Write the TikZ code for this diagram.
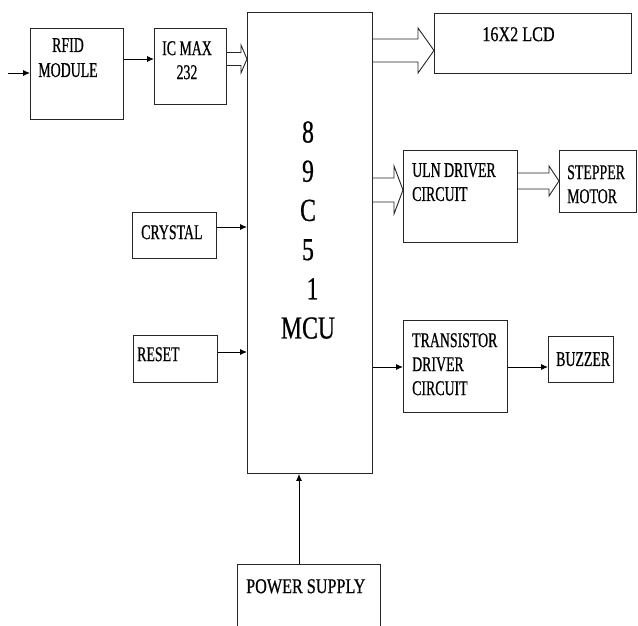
\documentclass[tikz,border=0pt]{standalone}
\usepackage{fontspec}
\setmainfont{Liberation Serif}
\newfontfamily\tnr[FakeStretch=0.66,FakeBold=0.6]{Liberation Serif}
\newfontfamily\tnrw[FakeStretch=0.77,FakeBold=0.6]{Liberation Serif}
\newfontfamily\tnrm[FakeStretch=0.74,FakeBold=0.6]{Liberation Serif}
\usetikzlibrary{arrows.meta,calc}
\tikzset{
  box/.style={draw=black!85, line width=0.9pt, inner sep=0pt, anchor=north west},
  lbl/.style={inner sep=0pt, font=\tnr\fontsize{21}{24}\selectfont},
  lblw/.style={inner sep=0pt, font=\tnrw\fontsize{21}{24}\selectfont},
  conn/.style={line width=0.9pt, -{Latex[length=7pt,width=6pt]}},
  hollow/.style={draw=black!85, line width=0.9pt, line join=miter},
}
% #1 from anchor, #2 to anchor, #3 centre y, #4 half shaft, #5 half head, #6 head length
\newcommand\blockarrow[6]{%
  \draw[hollow] ($(#1 |- 0,#3)+(0,-#4)$) -- ($(#2 |- 0,#3)+(-#6,-#4)$)
    -- ($(#2 |- 0,#3)+(-#6,-#5)$) -- (#2 |- 0,#3) -- ($(#2 |- 0,#3)+(-#6,#5)$)
    -- ($(#2 |- 0,#3)+(-#6,#4)$) -- ($(#1 |- 0,#3)+(0,#4)$);}
\begin{document}
\begin{tikzpicture}[x=1pt,y=-1pt]
\useasboundingbox (0,0) rectangle (638,626);
\clip (0,0) rectangle (638,626);
\fill[white] (0,0) rectangle (638,626);

% boxes
\node[box, minimum width=93pt,  minimum height=91pt]  (rfid)  at (30,28)   {};
\node[box, minimum width=72pt,  minimum height=76pt]  (ic)    at (154,28)  {};
\node[box, minimum width=125pt, minimum height=461pt] (mcu)   at (247,12)  {};
\node[box, minimum width=197pt, minimum height=60pt]  (lcd)   at (434,13)  {};
\node[box, minimum width=114pt, minimum height=92pt]  (uln)   at (403,150) {};
\node[box, minimum width=77pt,  minimum height=62pt]  (step)  at (559,150) {};
\node[box, minimum width=104pt, minimum height=92pt]  (trans) at (403,320) {};
\node[box, minimum width=65pt,  minimum height=46pt]  (buzz)  at (548,336) {};
\node[box, minimum width=84pt,  minimum height=46pt]  (crys)  at (132,212) {};
\node[box, minimum width=84pt,  minimum height=47pt]  (reset) at (133,335) {};
\node[box, minimum width=143pt, minimum height=80pt]  (power) at (237,564) {};

% labels
\node[lbl, align=center, anchor=north] (rfidT) at (68,38) {RFID\\[1pt]MODULE};
\node[lbl, align=center, anchor=north] (icT) at (187,41) {IC MAX\\232};
\node[lblw, anchor=north] (lcdT) at (518.5,27) {16X2 LCD};
\node[lbl, align=left, anchor=north west] (ulnT) at (412,163) {ULN DRIVER\\CIRCUIT};
\node[lbl, align=left, anchor=north west] (stepT) at (567,165) {STEPPER\\MOTOR};
\node[lbl, align=left, anchor=north west] (transT) at (412,333) {TRANSISTOR\\DRIVER\\CIRCUIT};
\node[lbl, anchor=north west] (buzzT) at (556,352) {BUZZER};
\node[lbl, anchor=north west] (crysT) at (141,225) {CRYSTAL};
\node[lbl, anchor=north west] (resetT) at (137,347) {RESET};
\node[lblw, anchor=north west] (powerT) at (246,579) {POWER SUPPLY};
\node[inner sep=0pt, align=center, anchor=north, font=\tnrm\fontsize{32}{39.2}\selectfont]
  (mcuT) at (308,121) {8\\9\\C\\5\\\hspace*{9pt}1\\MCU};

% thin connectors
\coordinate (inp) at (8,73);
\draw[conn] (inp) -- (inp -| rfid.west);
\draw[conn] (rfid.east |- 0,59) -- (ic.west |- 0,59);
\draw[conn] (crys.east |- 0,227) -- (mcu.west |- 0,227);
\draw[conn] (reset.east |- 0,352) -- (mcu.west |- 0,352);
\draw[conn] (mcu.east |- 0,367) -- (trans.west |- 0,367);
\draw[conn] (trans.east |- 0,367) -- (buzz.west |- 0,367);
\draw[conn] (power.north -| 299,0) -- (mcu.south -| 299,0);

% block arrows
\blockarrow{ic.east}{mcu.west}{59}{6.5}{14}{6}
\blockarrow{mcu.east}{lcd.west}{50.5}{11.5}{22.5}{16}
\blockarrow{mcu.east}{uln.west}{190}{12}{24}{9}
\blockarrow{uln.east}{step.west}{181}{8}{15}{10}
\end{tikzpicture}
\end{document}
